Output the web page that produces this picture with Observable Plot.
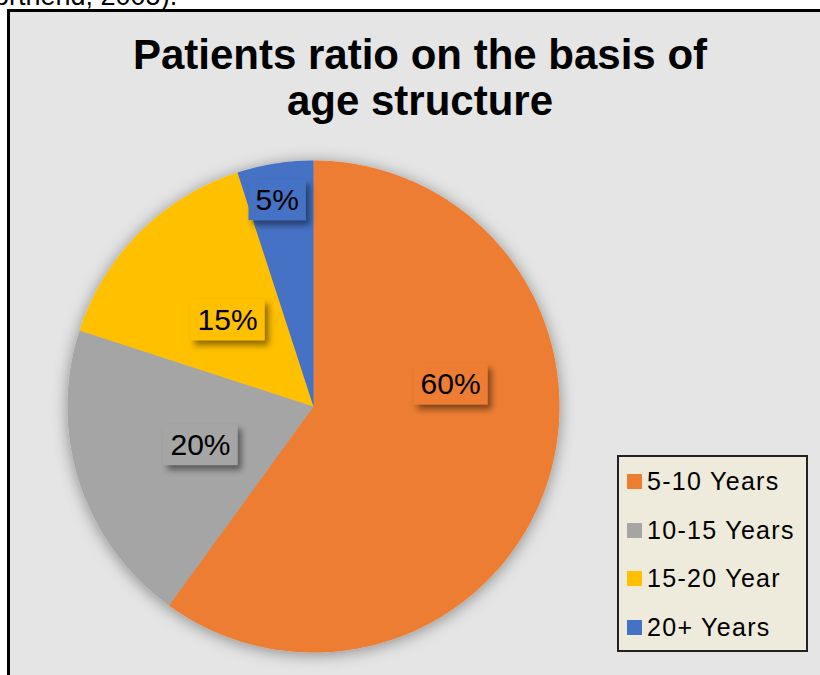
<!DOCTYPE html>
<html>
<head>
<meta charset="utf-8">
<script src="https://cdn.jsdelivr.net/npm/d3@7"></script>
<script src="https://cdn.jsdelivr.net/npm/@observablehq/plot@0.6"></script>
<style>
  html, body { margin:0; padding:0; width:820px; height:675px; overflow:hidden; background:#fff;
    font-family:"Liberation Sans", Arial, sans-serif; }
  #cite { position:absolute; left:-6px; top:-19px; font-size:27px; line-height:30px; color:#000; white-space:nowrap; }
  #frame { position:absolute; left:7px; top:9px; width:900px; height:800px; border:3px solid #000; background:#e5e5e5; }
  #chart { position:absolute; left:0; top:0; }
  #title { position:absolute; left:0; top:32px; width:840px; text-align:center; font-weight:bold;
    font-size:42px; line-height:46px; color:#000; }
  #legend { position:absolute; left:617px; top:455px; width:187px; height:193px; border:2px solid #222; background:#eeeadc; }
  .row { height:48.8px; display:flex; align-items:center; font-size:25px; letter-spacing:1.3px; color:#000; white-space:nowrap; }
  .sw { width:15px; height:15px; margin-left:8px; margin-right:5px; flex:none; }
</style>
</head>
<body>
<div id="frame"></div>
<div id="cite">orthend, 2005).</div>
<div id="chart"></div>
<div id="title">Patients ratio on the basis of<br>age structure</div>
<div id="legend"></div>
<script>
// ---- data ----
const categories = ["5-10 Years", "10-15 Years", "15-20 Year", "20+ Years"];
const shares = [60, 20, 15, 5];
const shareLabels = ["60%", "20%", "15%", "5%"];
const sliceColors = ["#ED7D31", "#A5A5A5", "#FFC000", "#4472C4"];

// ---- layout (label placement inside slices, like Excel's best fit) ----
const labelRadius = [0.564, 0.486, 0.494, 0.85];
const labelAngleShift = [-27, -1, 0, -1]; // degrees

const rows = categories.map((c, i) => ({cat: c, share: shares[i], label: shareLabels[i]}));
const arcs = d3.pie().sort(null).value(d => d.share).startAngle(0).endAngle(2 * Math.PI)(rows);

const slicePts = [];
arcs.forEach(a => {
  const cat = a.data.cat;
  slicePts.push({cat, x: 0, y: 0});
  const n = Math.max(2, Math.ceil((a.endAngle - a.startAngle) / (Math.PI / 180)));
  for (let i = 0; i <= n; i++) {
    const t = a.startAngle + (a.endAngle - a.startAngle) * i / n;
    slicePts.push({cat, x: Math.sin(t), y: -Math.cos(t)});
  }
  slicePts.push({cat, x: 0, y: 0});
});

const labelRows = arcs.map((a, i) => {
  const t = (a.startAngle + a.endAngle) / 2 + labelAngleShift[i] * Math.PI / 180;
  return {cat: a.data.cat, label: a.data.label, x: labelRadius[i] * Math.sin(t), y: -labelRadius[i] * Math.cos(t)};
});

const chart = Plot.plot({
  width: 820,
  height: 675,
  margin: 0,
  style: {background: "transparent", fontFamily: "Liberation Sans, Arial, sans-serif", overflow: "visible"},
  x: {domain: [-1, 1], range: [67, 559], axis: null},
  y: {domain: [-1, 1], range: [160, 652], axis: null},
  color: {domain: categories, range: sliceColors},
  marks: [
    Plot.line(slicePts, {x: "x", y: "y", z: "cat", fill: "cat", stroke: "none", curve: "linear"}),
    Plot.text(labelRows, {x: "x", y: "y", text: "label", fontSize: 30, fill: "#000"})
  ]
});
document.getElementById("chart").appendChild(chart);

// shadows
const svg = d3.select(chart);
const defs = svg.insert("defs", ":first-child");
defs.append("filter").attr("id", "pieShadow").attr("x", "-20%").attr("y", "-20%").attr("width", "140%").attr("height", "140%")
  .append("feDropShadow").attr("dx", 0).attr("dy", 2).attr("stdDeviation", 8).attr("flood-color", "#000").attr("flood-opacity", 0.4);
defs.append("filter").attr("id", "lblShadow").attr("x", "-30%").attr("y", "-30%").attr("width", "170%").attr("height", "170%")
  .append("feDropShadow").attr("dx", 4).attr("dy", 5).attr("stdDeviation", 3).attr("flood-color", "#000").attr("flood-opacity", 0.45);

svg.select('g[aria-label="line"]').attr("filter", "url(#pieShadow)");

// label boxes behind text, coloured by the slice's colour scale
const color = chart.scale("color");
const colorOf = d3.scaleOrdinal(color.domain, color.range);
const textG = svg.select('g[aria-label="text"]');
const boxG = svg.insert("g", 'g[aria-label="text"]');
const groupTransform = textG.attr("transform");
if (groupTransform) boxG.attr("transform", groupTransform);
textG.selectAll("text").each(function(_, i) {
  const bb = this.getBBox();
  const tr = this.getAttribute("transform");
  const r = boxG.append("rect")
    .attr("x", bb.x - 7).attr("y", bb.y - 4)
    .attr("width", bb.width + 14).attr("height", bb.height + 8)
    .attr("fill", colorOf(labelRows[i].cat))
    .attr("filter", "url(#lblShadow)");
  if (tr) r.attr("transform", tr);
});

// legend from the colour scale
const legend = d3.select("#legend");
color.domain.forEach((c, i) => {
  const r = legend.append("div").attr("class", "row");
  r.append("div").attr("class", "sw").style("background", color.range[i]);
  r.append("span").text(c);
});
</script>
</body>
</html>
